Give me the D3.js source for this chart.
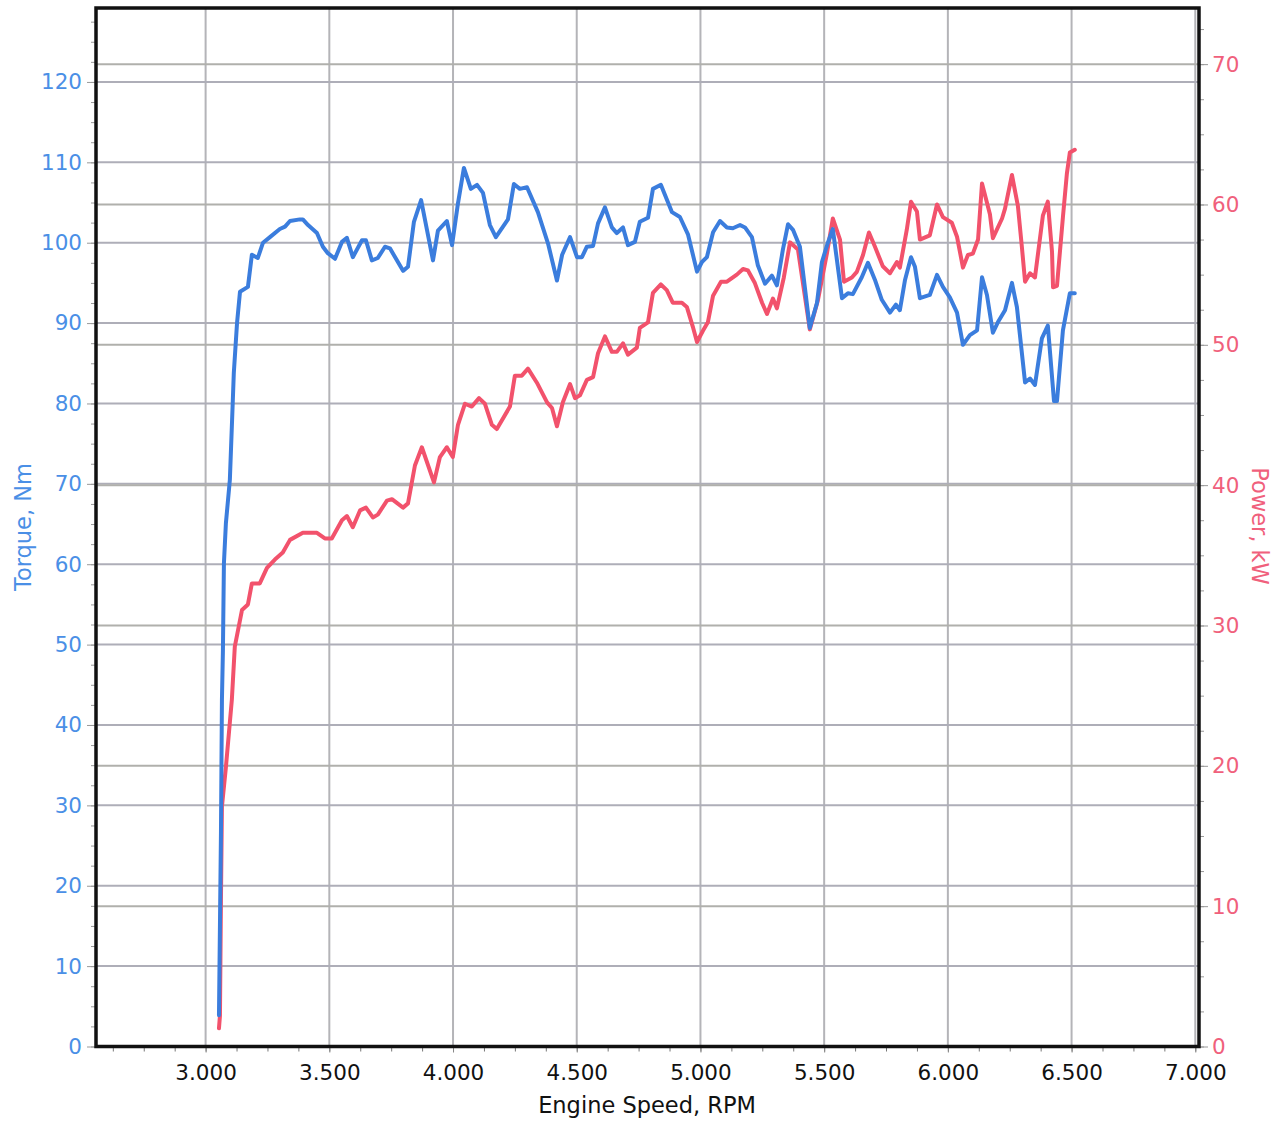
<!DOCTYPE html>
<html>
<head>
<meta charset="utf-8">
<script src="https://cdn.jsdelivr.net/npm/d3@7/dist/d3.min.js"></script>
<style>
  html, body { margin: 0; padding: 0; background: #fff; }
  svg { display: block; font-family: "DejaVu Sans", Verdana, sans-serif; }
</style>
</head>
<body>
<svg id="chart" width="1288" height="1121"></svg>
<script>
// ---- Data ----
const torqueRpm = [3054,3062,3066,3070,3074,3082,3098,3110,3114,3127,3139,3171,3187,3211,3232,3260,3300,3321,3341,3381,3393,3414,3450,3474,3494,3523,3551,3571,3595,3632,3648,3672,3696,3725,3745,3798,3818,3842,3871,3919,3939,3975,3996,4020,4044,4072,4097,4121,4149,4173,4222,4246,4270,4299,4343,4384,4420,4441,4473,4501,4521,4541,4566,4586,4614,4642,4662,4687,4707,4735,4755,4788,4808,4840,4885,4917,4950,4986,5006,5026,5051,5079,5107,5131,5160,5180,5208,5232,5261,5289,5309,5333,5354,5374,5402,5442,5471,5491,5515,5535,5572,5596,5616,5652,5677,5705,5733,5766,5790,5806,5827,5851,5867,5887,5927,5956,5980,6008,6037,6061,6089,6118,6138,6158,6182,6202,6231,6259,6279,6312,6332,6352,6380,6404,6429,6441,6465,6493,6513];
const torqueNm = [3.9,26.5,43.1,49.3,60.1,65.1,70.5,80.4,83.8,90.0,93.9,94.5,98.5,98.1,100.0,100.7,101.7,102.0,102.7,102.9,102.9,102.2,101.2,99.5,98.7,98.0,100.1,100.6,98.2,100.3,100.3,97.8,98.1,99.5,99.3,96.5,97.0,102.6,105.3,97.8,101.5,102.7,99.7,104.9,109.3,106.7,107.2,106.2,102.2,100.7,102.9,107.3,106.7,106.9,103.8,99.9,95.3,98.5,100.7,98.2,98.2,99.5,99.6,102.4,104.4,101.9,101.2,101.9,99.7,100.1,102.6,103.1,106.7,107.2,103.8,103.2,101.0,96.4,97.6,98.2,101.3,102.7,101.9,101.8,102.2,101.9,100.7,97.2,94.9,95.9,94.7,99.1,102.3,101.6,99.5,89.4,92.5,97.6,100.0,101.7,93.1,93.7,93.6,95.7,97.5,95.4,92.9,91.3,92.3,91.6,95.4,98.2,97.0,93.1,93.5,96.0,94.5,93.2,91.3,87.3,88.5,89.1,95.7,93.5,88.8,90.1,91.6,95.0,92.0,82.6,83.1,82.3,88.1,89.7,80.3,80.3,89.1,93.7,93.7];

const powerRpm = [3054,3058,3062,3066,3082,3106,3118,3147,3171,3187,3219,3248,3280,3312,3341,3393,3450,3482,3510,3551,3571,3595,3624,3648,3676,3696,3733,3753,3798,3818,3846,3874,3923,3947,3975,3999,4020,4048,4076,4105,4129,4157,4177,4230,4250,4278,4303,4339,4380,4400,4420,4444,4473,4493,4513,4541,4566,4586,4614,4642,4662,4687,4707,4743,4755,4788,4808,4840,4864,4888,4925,4945,4969,4986,5010,5030,5051,5083,5107,5147,5172,5192,5220,5249,5269,5293,5309,5337,5362,5394,5442,5475,5511,5535,5564,5580,5612,5632,5657,5681,5705,5737,5766,5794,5806,5834,5851,5875,5887,5927,5956,5980,6016,6037,6061,6081,6101,6122,6138,6170,6182,6219,6231,6259,6283,6299,6312,6332,6352,6384,6404,6421,6425,6441,6465,6481,6493,6513];
const powerKw = [1.3,2.2,10.4,17.1,19.9,24.7,28.5,31.1,31.5,33.0,33.0,34.1,34.7,35.2,36.1,36.6,36.6,36.2,36.2,37.5,37.8,37.0,38.2,38.4,37.7,37.9,38.9,39.0,38.4,38.7,41.4,42.7,40.2,42.0,42.7,42.0,44.3,45.8,45.6,46.2,45.8,44.3,44.0,45.6,47.8,47.8,48.3,47.3,45.9,45.5,44.2,45.9,47.2,46.2,46.4,47.5,47.7,49.4,50.6,49.5,49.5,50.1,49.3,49.8,51.2,51.6,53.7,54.3,53.9,53.0,53.0,52.7,51.3,50.2,51.0,51.6,53.5,54.5,54.5,55.0,55.4,55.3,54.4,53.0,52.2,53.3,52.6,54.8,57.3,56.8,51.1,53.2,56.5,59.0,57.5,54.5,54.8,55.2,56.4,58.0,57.0,55.6,55.1,55.9,55.5,58.2,60.2,59.5,57.5,57.8,60.0,59.1,58.7,57.7,55.5,56.4,56.5,57.5,61.5,59.3,57.6,59.0,59.7,62.1,59.9,57.0,54.5,55.1,54.8,59.2,60.2,56.6,54.1,54.2,59.1,62.2,63.7,63.9];

const rpmTicks = [3000,3500,4000,4500,5000,5500,6000,6500,7000];
const torqueTicks = [0,10,20,30,40,50,60,70,80,90,100,110,120];
const powerTicks = [0,10,20,30,40,50,60,70];

// ---- Layout ----
const svg = d3.select("#chart");
const L = 96, R = 1199, T = 8, B = 1046.5;
const blueLine = "#3b7ddd", redLine = "#f2526c";
const blueText = "#4a8fe6", redText = "#f0607c";

const x = d3.scaleLinear().domain([2557, 7015]).range([L, R]);
const yL = d3.scaleLinear().domain([0, 129.2]).range([B, T]);
const yR = d3.scaleLinear().domain([0, 74]).range([B, T]);

// Gridlines
const grid = svg.append("g");
grid.selectAll(".vg").data(rpmTicks).join("line")
  .attr("x1", d => x(d)).attr("x2", d => x(d)).attr("y1", T).attr("y2", B)
  .attr("stroke", "#b4b4b8").attr("stroke-width", 2);
grid.selectAll(".hl").data(torqueTicks.filter(d => d > 0)).join("line")
  .attr("x1", L).attr("x2", R).attr("y1", d => yL(d)).attr("y2", d => yL(d))
  .attr("stroke", "#aeaeb8").attr("stroke-width", 2);
grid.selectAll(".hr").data(powerTicks.filter(d => d > 0)).join("line")
  .attr("x1", L).attr("x2", R).attr("y1", d => yR(d)).attr("y2", d => yR(d))
  .attr("stroke", "#b0b0ac").attr("stroke-width", 2);

// Lines
const torqueData = torqueRpm.map((r, i) => [r, torqueNm[i]]);
const powerData = powerRpm.map((r, i) => [r, powerKw[i]]);
svg.append("path").datum(powerData)
  .attr("fill", "none").attr("stroke", redLine).attr("stroke-width", 4)
  .attr("stroke-linejoin", "round").attr("stroke-linecap", "round")
  .attr("d", d3.line().x(d => x(d[0])).y(d => yR(d[1])));
svg.append("path").datum(torqueData)
  .attr("fill", "none").attr("stroke", blueLine).attr("stroke-width", 4)
  .attr("stroke-linejoin", "round").attr("stroke-linecap", "round")
  .attr("d", d3.line().x(d => x(d[0])).y(d => yL(d[1])));

// Minor ticks
const minorL = d3.range(0, 129, 2.5);
const minorR = d3.range(0, 74, 2.5);
const minorX = d3.range(2625, 7001, 125);
svg.append("g").attr("transform", `translate(${L},0)`)
  .call(d3.axisLeft(yL).tickValues(minorL).tickSize(5).tickFormat(""))
  .call(g => g.select(".domain").remove())
  .call(g => g.selectAll("line").attr("stroke", "#999"));
svg.append("g").attr("transform", `translate(${R},0)`)
  .call(d3.axisRight(yR).tickValues(minorR).tickSize(5).tickFormat(""))
  .call(g => g.select(".domain").remove())
  .call(g => g.selectAll("line").attr("stroke", "#999"));
svg.append("g").attr("transform", `translate(0,${B})`)
  .call(d3.axisBottom(x).tickValues(minorX).tickSize(5).tickFormat(""))
  .call(g => g.select(".domain").remove())
  .call(g => g.selectAll("line").attr("stroke", "#777"));

// Major axes
const fmt = d => d3.format(",")(d).replace(",", ".");
svg.append("g").attr("transform", `translate(${L},0)`)
  .call(d3.axisLeft(yL).tickValues(torqueTicks).tickSize(9).tickPadding(5))
  .call(g => g.select(".domain").remove())
  .call(g => g.selectAll("line").attr("stroke", "#999"))
  .call(g => g.selectAll("text").attr("fill", blueText).attr("font-size", 21.5)
    .attr("font-family", "DejaVu Sans, sans-serif"));
svg.append("g").attr("transform", `translate(${R},0)`)
  .call(d3.axisRight(yR).tickValues(powerTicks).tickSize(9).tickPadding(4))
  .call(g => g.select(".domain").remove())
  .call(g => g.selectAll("line").attr("stroke", "#999"))
  .call(g => g.selectAll("text").attr("fill", redText).attr("font-size", 21.5)
    .attr("font-family", "DejaVu Sans, sans-serif"));
svg.append("g").attr("transform", `translate(0,${B})`)
  .call(d3.axisBottom(x).tickValues(rpmTicks).tickFormat(fmt).tickSize(6).tickPadding(12))
  .call(g => g.select(".domain").remove())
  .call(g => g.selectAll("line").attr("stroke", "#888"))
  .call(g => g.selectAll("text").attr("fill", "#111").attr("font-size", 21.5)
    .attr("font-family", "DejaVu Sans, sans-serif"));

// Frame
svg.append("rect").attr("x", L).attr("y", T).attr("width", R - L).attr("height", B - T)
  .attr("fill", "none").attr("stroke", "#111").attr("stroke-width", 3.5);

// Titles
svg.append("text").attr("transform", "translate(31,527) rotate(-90)")
  .attr("text-anchor", "middle").attr("fill", blueText).attr("font-size", 22.5)
  .text("Torque, Nm");
svg.append("text").attr("transform", "translate(1252,526) rotate(90)")
  .attr("text-anchor", "middle").attr("fill", redText).attr("font-size", 22.5)
  .text("Power, kW");
svg.append("text").attr("x", 647).attr("y", 1113)
  .attr("text-anchor", "middle").attr("fill", "#111").attr("font-size", 22.5)
  .text("Engine Speed, RPM");
</script>
</body>
</html>
